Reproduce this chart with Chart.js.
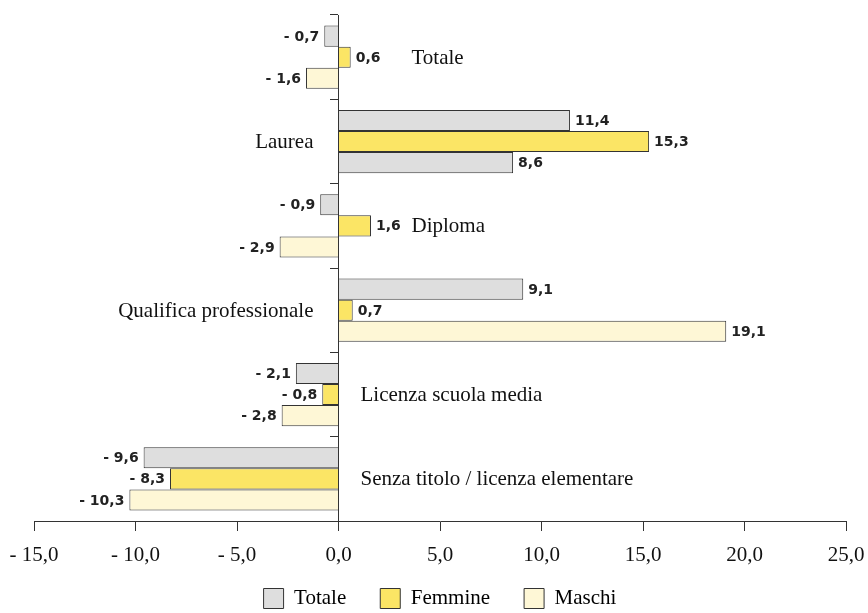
<!DOCTYPE html>
<html>
<head>
<meta charset="utf-8">
<script src="https://cdn.jsdelivr.net/npm/chart.js@4.4.0/dist/chart.umd.min.js"></script>
<style>
  html, body { margin: 0; padding: 0; background: #fff; }
  #wrap { width: 868px; height: 613px; }
</style>
</head>
<body>
<div id="wrap"><canvas id="chart"></canvas></div>
<script>
// data (variazione %)
var categories = ["Totale", "Laurea", "Diploma", "Qualifica professionale", "Licenza scuola media", "Senza titolo / licenza elementare"];
var seriesNames = ["Totale", "Femmine", "Maschi"];
var totale = [-0.7, 11.4, -0.9, 9.1, -2.1, -9.6];
var femmine = [0.6, 15.3, 1.6, 0.7, -0.8, -8.3];
var maschi = [-1.6, 8.6, -2.9, 19.1, -2.8, -10.3];
var xTicks = [-15, -10, -5, 0, 5, 10, 15, 20, 25];

var GRAY = "#dedede", YELLOW = "#fbe565", CREAM = "#fef7d6", EDGE = "#333333";
var seriesColors = [GRAY, YELLOW, CREAM];
// in the original the Laurea bar for Maschi is drawn grey
var maschiColors = maschi.map(function (v, i) { return i === 1 ? GRAY : CREAM; });

function fmt(v) {
  var s = Math.abs(v).toFixed(1).replace(".", ",");
  return v < 0 ? "- " + s : s;
}

var valueLabels = {
  id: "valueLabels",
  afterDatasetsDraw: function (chart) {
    var ctx = chart.ctx;
    ctx.save();
    ctx.font = "bold 14px 'DejaVu Sans', sans-serif";
    ctx.fillStyle = "#222";
    ctx.textBaseline = "middle";
    chart.data.datasets.forEach(function (ds, di) {
      chart.getDatasetMeta(di).data.forEach(function (el, i) {
        var v = ds.data[i];
        if (v >= 0) { ctx.textAlign = "left"; ctx.fillText(fmt(v), el.x + 5, el.y + 1); }
        else { ctx.textAlign = "right"; ctx.fillText(fmt(v), el.x - 5, el.y + 1); }
      });
    });
    ctx.restore();
  }
};

var categoryLabels = {
  id: "categoryLabels",
  afterDatasetsDraw: function (chart) {
    var ctx = chart.ctx, x = chart.scales.x, y = chart.scales.y;
    var zero = x.getPixelForValue(0);
    ctx.save();
    ctx.font = "21px 'Liberation Serif', serif";
    ctx.fillStyle = "#111";
    ctx.textBaseline = "middle";
    categories.forEach(function (c, i) {
      var vals = [totale[i], femmine[i], maschi[i]];
      var pos = vals.filter(function (v) { return v > 0; }).length;
      var yy = y.getPixelForValue(i) + 1;
      if (pos === 3) { ctx.textAlign = "right"; ctx.fillText(c, zero - 25, yy); }
      else if (pos === 0) { ctx.textAlign = "left"; ctx.fillText(c, zero + 22, yy); }
      else { ctx.textAlign = "left"; ctx.fillText(c, zero + 73, yy); }
    });
    ctx.restore();
  }
};

// legend items sit close under the axis labels: pull the legend box up a bit
var legendShift = {
  id: "legendShift",
  afterLayout: function (chart) {
    chart.legend.top -= 14;
  }
};

new Chart(document.getElementById("chart"), {
  type: "bar",
  data: {
    labels: categories,
    datasets: [
      { label: seriesNames[0], data: totale, backgroundColor: GRAY },
      { label: seriesNames[1], data: femmine, backgroundColor: YELLOW },
      { label: seriesNames[2], data: maschi, backgroundColor: maschiColors }
    ]
  },
  options: {
    indexAxis: "y",
    responsive: true,
    maintainAspectRatio: false,
    animation: false,
    layout: { padding: { left: 34, right: 22, top: 15, bottom: 0 } },
    datasets: {
      bar: { borderColor: EDGE, borderWidth: 1, categoryPercentage: 0.75, barPercentage: 1 }
    },
    scales: {
      x: {
        min: -15, max: 25,
        afterBuildTicks: function (scale) {
          scale.ticks = xTicks.map(function (v) { return { value: v }; });
        },
        afterFit: function (scale) {
          scale.height = 47;
          scale.paddingLeft = 0;
          scale.paddingRight = 0;
        },
        grid: { drawOnChartArea: false, tickLength: 10, color: EDGE },
        border: { display: true, color: EDGE, width: 1 },
        ticks: {
          padding: 12,
          color: "#111",
          font: { family: "'Liberation Serif', serif", size: 21 },
          callback: function (v) { return fmt(v); }
        }
      },
      y: {
        position: { x: 0 },
        grid: { drawOnChartArea: false, offset: true, tickLength: 8, color: EDGE },
        border: { display: true, color: EDGE, width: 1 },
        ticks: { display: false }
      }
    },
    plugins: {
      legend: {
        position: "bottom",
        maxHeight: 45,
        labels: {
          boxWidth: 20,
          boxHeight: 20,
          padding: 34,
          color: "#111",
          font: { family: "'Liberation Serif', serif", size: 21 },
          generateLabels: function () {
            return seriesNames.map(function (n, i) {
              return { text: n, fillStyle: seriesColors[i], strokeStyle: EDGE, lineWidth: 1, datasetIndex: i };
            });
          }
        }
      },
      tooltip: { enabled: false }
    }
  },
  plugins: [valueLabels, categoryLabels, legendShift]
});
</script>
</body>
</html>
